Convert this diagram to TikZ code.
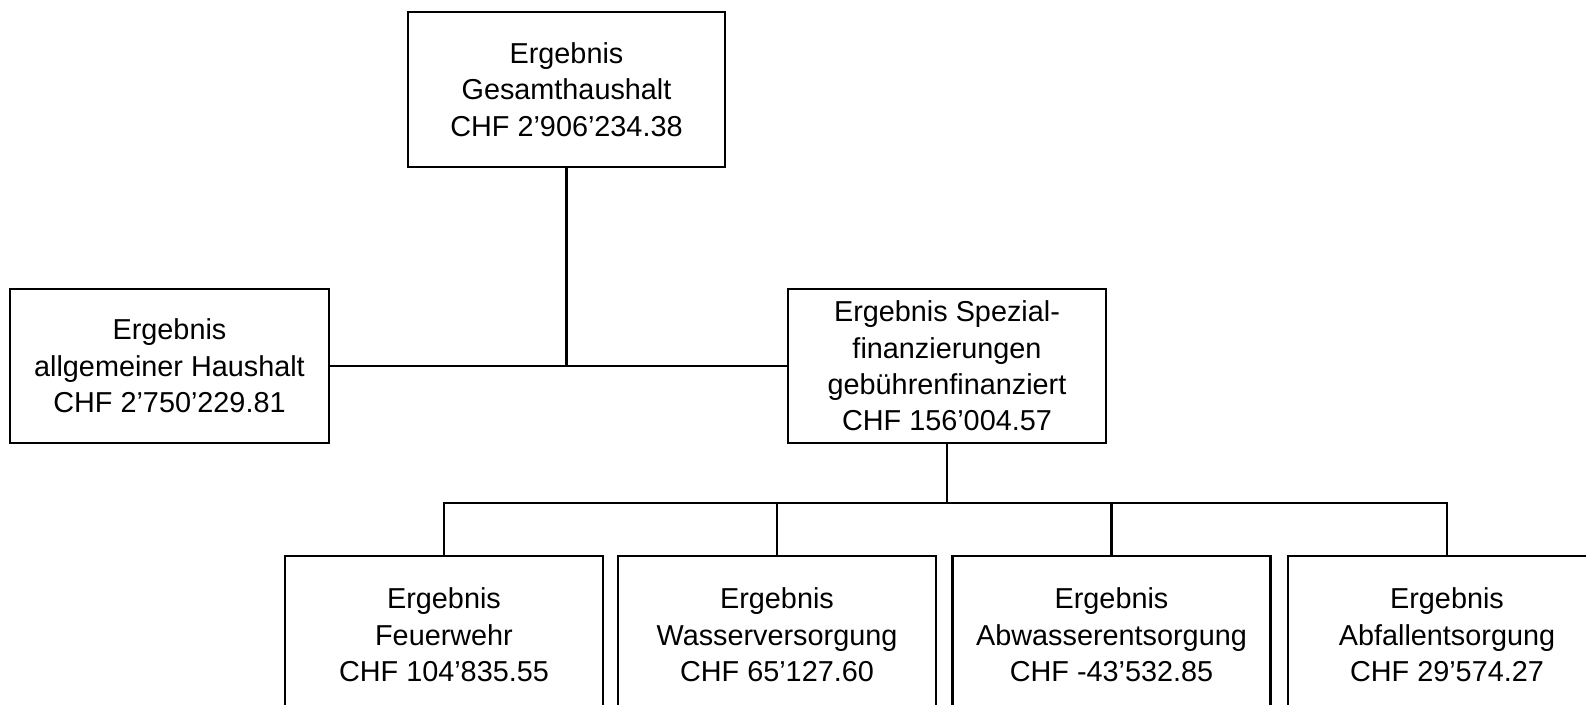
\documentclass[tikz,border=0pt]{standalone}
\usepackage{fontspec}
\setmainfont{Liberation Sans}
\begin{document}
\begin{tikzpicture}[x=0.02cm,y=-0.02cm,
  box/.style={draw,line width=1.2pt,align=center,inner sep=0pt,
    font=\fontsize{16.4}{20.7}\selectfont},
  link/.style={line width=1.2pt}]
\useasboundingbox (0,0) rectangle (1586,705);
\clip (0,0) rectangle (1586,705);
\node[box,minimum width=6.34cm,minimum height=3.1cm] (top) at (566.5,89.5)
  {Ergebnis\\Gesamthaushalt\\CHF 2’906’234.38};
\node[box,minimum width=6.38cm,minimum height=3.08cm] (left) at (169.5,366)
  {Ergebnis\\allgemeiner Haushalt\\CHF 2’750’229.81};
\node[box,minimum width=6.36cm,minimum height=3.08cm] (mid) at (947,366)
  {Ergebnis Spezial-\\finanzierungen\\gebührenfinanziert\\CHF 156’004.57};
\node[box,minimum width=6.36cm,minimum height=3.16cm] (b1) at (444,635)
  {Ergebnis\\Feuerwehr\\CHF 104’835.55};
\node[box,minimum width=6.36cm,minimum height=3.16cm] (b2) at (777,635)
  {Ergebnis\\Wasserversorgung\\CHF 65’127.60};
\node[box,minimum width=6.36cm,minimum height=3.16cm] (b3) at (1111.5,635)
  {Ergebnis\\Abwasserentsorgung\\CHF -43’532.85};
\node[box,minimum width=6.36cm,minimum height=3.16cm] (b4) at (1447,635)
  {Ergebnis\\Abfallentsorgung\\CHF 29’574.27};
\coordinate (bar) at (0,503);
\draw[link] (top.south) -- (top.south |- left.east);
\draw[link] (left.east) -- (mid.west);
\draw[link] (mid.south) -- (mid.south |- bar);
\draw[link] (b1.north) |- (b4.north |- bar) -- (b4.north);
\draw[link] (b2.north) -- (b2.north |- bar);
\draw[link] (b3.north) -- (b3.north |- bar);
\end{tikzpicture}
\end{document}
